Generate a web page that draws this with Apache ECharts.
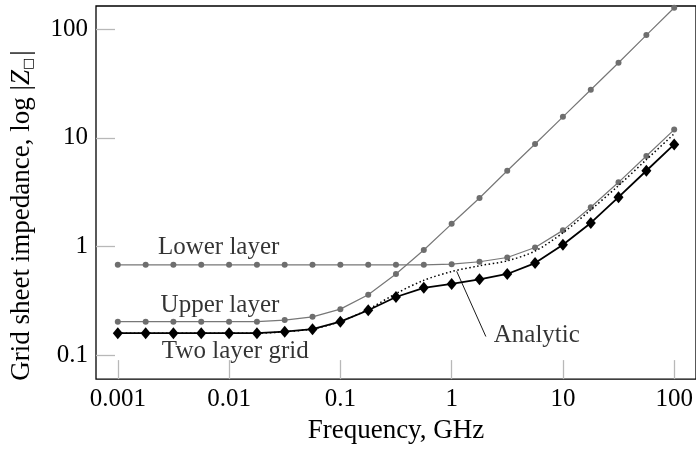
<!DOCTYPE html>
<html>
<head>
<meta charset="utf-8">
<script src="https://cdn.jsdelivr.net/npm/echarts@6/dist/echarts.min.js"></script>
<style>html,body{margin:0;padding:0;background:#fff}#c{width:696px;height:449px}</style>
</head>
<body>
<div id="c"></div>
<script>
// Frequency points (GHz)
const freq = [0.001, 0.00178, 0.00316, 0.00562, 0.01, 0.0178, 0.0316, 0.0562, 0.1, 0.178, 0.316, 0.562, 1, 1.78, 3.16, 5.62, 10, 17.8, 31.6, 56.2, 100];
const lowerLayer = [0.68, 0.68, 0.68, 0.68, 0.68, 0.68, 0.68, 0.68, 0.68, 0.68, 0.68, 0.68, 0.69, 0.726, 0.794, 0.98, 1.41, 2.3, 3.9, 6.8, 11.9];
const upperLayer = [0.204, 0.204, 0.204, 0.204, 0.204, 0.204, 0.211, 0.226, 0.266, 0.361, 0.56, 0.93, 1.62, 2.8, 4.98, 8.77, 15.6, 27.7, 49, 88, 157];
const twoLayer = [0.16, 0.16, 0.16, 0.16, 0.16, 0.16, 0.165, 0.174, 0.204, 0.26, 0.344, 0.418, 0.454, 0.50, 0.56, 0.705, 1.04, 1.65, 2.85, 4.98, 8.7];
const analytic = [0.16, 0.16, 0.16, 0.16, 0.16, 0.16, 0.165, 0.175, 0.205, 0.265, 0.37, 0.49, 0.59, 0.667, 0.74, 0.91, 1.34, 2.18, 3.64, 6.3, 10.9];
const xTicks = [0.001, 0.01, 0.1, 1, 10, 100];
const yTicks = [0.1, 1, 10, 100];

const FONT = '"Liberation Serif", "DejaVu Serif", serif';
const pair = (xs, ys) => xs.map((x, i) => [x, ys[i]]);

const chart = echarts.init(document.getElementById('c'), null, {renderer: 'canvas'});
chart.setOption({
  animation: false,
  grid: {left: 93, right: -2, top: 6, bottom: 65, show: true, borderColor: '#000', borderWidth: 1.3, backgroundColor: 'transparent'},
  xAxis: {
    type: 'log', logBase: 10, min: 0.000637, max: 157,
    name: 'Frequency, GHz', nameLocation: 'middle', nameGap: 35,
    nameTextStyle: {fontFamily: FONT, fontSize: 27, color: '#000'},
    axisLine: {show: false},
    axisTick: {show: true, inside: true, length: 19, customValues: xTicks, lineStyle: {color: '#b8b8b8', width: 1.3}},
    axisLabel: {customValues: xTicks, fontFamily: FONT, fontSize: 25, color: '#000', margin: 8, formatter: v => String(v)},
    splitLine: {show: false}, minorTick: {show: false}
  },
  yAxis: {
    type: 'log', logBase: 10, min: 0.0605, max: 163,
    name: 'Grid sheet impedance, log |{z|Z}{s|□}|', nameLocation: 'middle', nameGap: 61, nameRotate: 90,
    nameTextStyle: {fontFamily: FONT, fontSize: 27, color: '#000', padding: [0, 46, 0, 0],
      rich: {z: {fontFamily: FONT, fontSize: 27, fontStyle: 'italic', color: '#000'},
             s: {fontFamily: '"DejaVu Sans", sans-serif', fontSize: 13, color: '#000', verticalAlign: 'bottom', padding: [10, 2, 0, 0]}}},
    axisLine: {show: false},
    axisTick: {show: true, inside: true, length: 19, customValues: yTicks, lineStyle: {color: '#b8b8b8', width: 1.3}},
    axisLabel: {customValues: yTicks, fontFamily: FONT, fontSize: 25, color: '#000', margin: 8, formatter: v => String(v)},
    splitLine: {show: false}, minorTick: {show: false}
  },
  series: [
    {name: 'Lower layer', type: 'line', data: pair(freq, lowerLayer), symbol: 'circle', symbolSize: 6,
     lineStyle: {color: '#777', width: 1.2}, itemStyle: {color: '#6e6e6e'}, z: 2},
    {name: 'Upper layer', type: 'line', data: pair(freq, upperLayer), symbol: 'circle', symbolSize: 6,
     lineStyle: {color: '#777', width: 1.2}, itemStyle: {color: '#6e6e6e'}, z: 2},
    {name: 'Analytic', type: 'line', data: pair(freq, analytic), symbol: 'none', smooth: 0.3,
     lineStyle: {color: '#000', width: 1.5, type: [1.5, 2.5]}, z: 3},
    {name: 'Two layer grid', type: 'line', data: pair(freq, twoLayer), symbol: 'diamond', symbolSize: [10, 12],
     lineStyle: {color: '#000', width: 1.8}, itemStyle: {color: '#000'}, z: 4},
    {name: 'leader', type: 'line', data: [[1.11, 0.593], [2.03, 0.149]], symbol: 'none',
     lineStyle: {color: '#000', width: 0.9}, z: 5, silent: true},
    {name: 'labels', type: 'scatter', symbolSize: 0, z: 6, silent: true,
     data: [
       {name: 'Lower layer', value: [0.00806, 0.987], label: {position: 'inside'}},
       {name: 'Upper layer', value: [0.00828, 0.289], label: {position: 'inside'}},
       {name: 'Two layer grid', value: [0.01137, 0.1096], label: {position: 'inside'}},
       {name: 'Analytic', value: [2.39, 0.154], label: {position: 'right', distance: 0}}
     ],
     label: {show: true, formatter: p => p.name, fontFamily: FONT, fontSize: 25, color: '#000'}}
  ]
});
</script>
</body>
</html>
